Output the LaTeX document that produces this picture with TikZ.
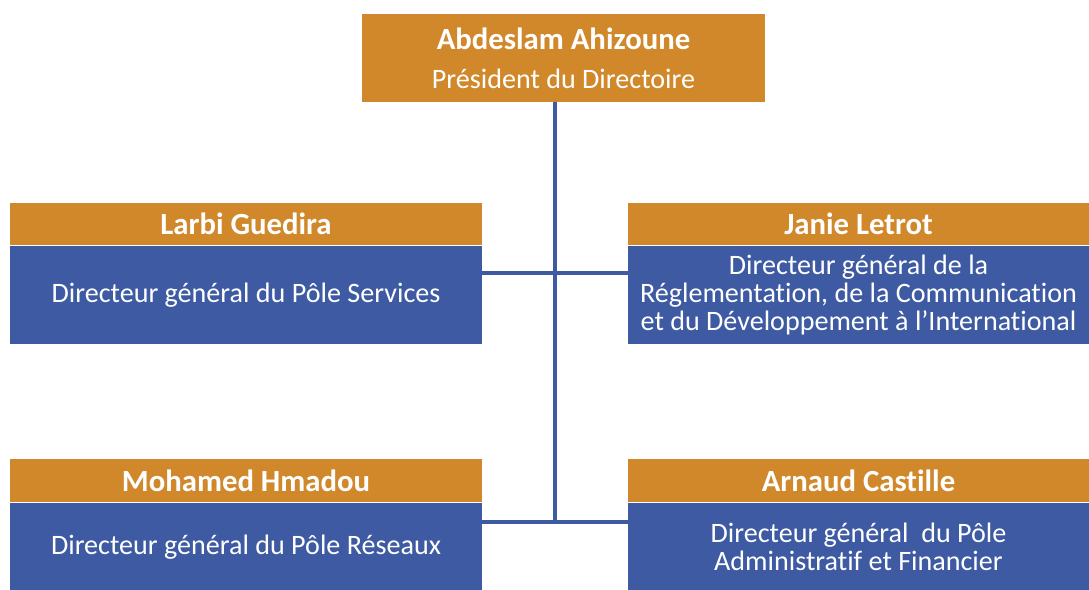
\documentclass[tikz,border=0pt]{standalone}
\usepackage{fontspec}
\setmainfont{Carlito}[Ligatures=NoCommon]
\usetikzlibrary{positioning}
\definecolor{ocre}{HTML}{D1882B}
\definecolor{bleu}{HTML}{3D5AA2}
\tikzset{
  namebox/.style={fill=ocre,text=white,inner sep=0pt,
    font=\fontsize{17.5}{21}\selectfont\bfseries},
  rolebox/.style={fill=bleu,text=white,align=center,inner sep=0pt,
    font=\fontsize{16}{16}\selectfont},
  link/.style={draw=bleu,line width=2.2pt}
}
\begin{document}
\begin{tikzpicture}[x=0.02cm,y=-0.02cm]
  \useasboundingbox (0,0) rectangle (1089,590);
  % president
  \node[namebox,align=center,minimum width=8.06cm,minimum height=1.76cm] (pres) at (563.5,58)
    {Abdeslam Ahizoune\\[1pt]{\mdseries\fontsize{16}{19}\selectfont Président du Directoire}};
  % directeurs
  \node[namebox,minimum width=9.44cm,minimum height=0.84cm] (lg) at (246,224) {Larbi Guedira};
  \node[rolebox,minimum width=9.44cm,minimum height=1.96cm,below=0pt of lg] (lgr)
    {Directeur général du Pôle Services};
  \node[namebox,minimum width=9.22cm,minimum height=0.84cm] (jl) at (858.5,224) {Janie Letrot};
  \node[rolebox,minimum width=9.22cm,minimum height=1.96cm,below=0pt of jl] (jlr)
    {Directeur général de la\\Réglementation, de la Communication\\et du Développement à l’International};
  \node[namebox,minimum width=9.44cm,minimum height=0.86cm] (mh) at (246,480.5) {Mohamed Hmadou};
  \node[rolebox,minimum width=9.44cm,minimum height=1.76cm,below=0pt of mh] (mhr)
    {Directeur général du Pôle Réseaux};
  \node[namebox,minimum width=9.22cm,minimum height=0.86cm] (ac) at (858.5,480.5) {Arnaud Castille};
  \node[rolebox,minimum width=9.22cm,minimum height=1.76cm,below=0pt of ac] (acr)
    {Directeur général\ \ du Pôle\\Administratif et Financier};
  % liens
  \coordinate (j1) at (555,273);
  \coordinate (j2) at (555,522);
  \draw[link] (pres.south -| j1) -- (j2);
  \draw[link] (lgr.east |- j1) -- (jlr.west |- j1);
  \draw[link] (mhr.east |- j2) -- (acr.west |- j2);
\end{tikzpicture}
\end{document}
